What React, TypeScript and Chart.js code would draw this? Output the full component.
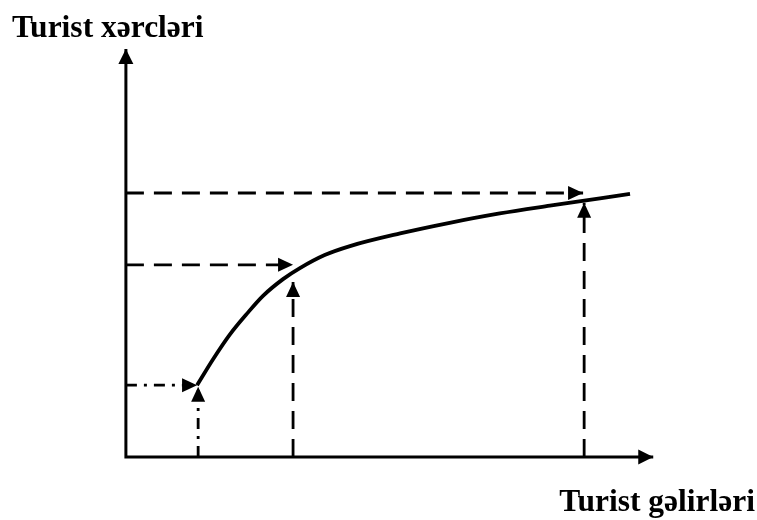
import React, { useEffect, useRef } from 'react';
import { Chart, registerables } from 'chart.js';

Chart.register(...registerables);

// Axis labels
const yAxisLabel = 'Turist xərcləri';
const xAxisLabel = 'Turist gəlirləri';

// Axis extents (abstract units)
const axisMaxX = 10;
const axisMaxY = 10;

// Expenditure curve
const curveX = [1.35, 1.65, 1.97, 2.3, 2.6, 2.98, 3.3, 3.77, 4.25, 5.2, 6.14, 7.09, 8.04, 8.99, 9.56];
const curveY = [1.76, 2.39, 3.0, 3.52, 3.95, 4.36, 4.63, 4.95, 5.17, 5.48, 5.74, 5.97, 6.16, 6.34, 6.45];

// Guide lines: horizontal (from y axis) and vertical (from x axis) arrows to the curve
const guideLevelY = [1.76, 4.71, 6.47];
const guideTipX = [1.35, 3.17, 8.67];
const guideX = [1.37, 3.17, 8.69];
const guideTipY = [1.72, 4.29, 6.23];
const guideStyle = ['dashdot', 'dash', 'dash'];

const FONT = "'Liberation Serif', 'Times New Roman', serif";

const arrowPlugin = {
  id: 'arrowHeads',
  afterDatasetsDraw(chart: any) {
    const ctx = chart.ctx;
    const drawHead = (a: any, b: any, L: number, W: number, color: string) => {
      const ang = Math.atan2(a.y - b.y, a.x - b.x);
      const c = Math.cos(ang);
      const s = Math.sin(ang);
      ctx.beginPath();
      ctx.moveTo(a.x, a.y);
      ctx.lineTo(a.x - L * c + (W / 2) * s, a.y - L * s - (W / 2) * c);
      ctx.lineTo(a.x - L * c - (W / 2) * s, a.y - L * s + (W / 2) * c);
      ctx.closePath();
      ctx.fillStyle = color;
      ctx.fill();
    };
    chart.data.datasets.forEach((ds: any, i: number) => {
      if (!ds.arrow) return;
      const meta = chart.getDatasetMeta(i);
      const pts = meta.data;
      const n = pts.length;
      if (n < 2) return;
      ctx.save();
      if (ds.arrow.end) drawHead(pts[n - 1], pts[n - 2], ds.arrow.length, ds.arrow.width, ds.borderColor);
      if (ds.arrow.start) drawHead(pts[0], pts[1], ds.arrow.length, ds.arrow.width, ds.borderColor);
      ctx.restore();
    });
  },
};

export default function App() {
  const ref = useRef<HTMLCanvasElement | null>(null);

  useEffect(() => {
    const canvas = ref.current;
    if (!canvas) return;

    const datasets: any[] = [];

    // axes
    datasets.push({
      data: [
        { x: 0, y: axisMaxY },
        { x: 0, y: 0 },
        { x: axisMaxX, y: 0 },
      ],
      borderColor: '#000',
      borderWidth: 3,
      borderJoinStyle: 'miter',
      arrow: { start: true, end: true, length: 15, width: 15 },
    });

    for (let i = 0; i < guideLevelY.length; i++) {
      const dash = guideStyle[i] === 'dashdot' ? [11, 7, 3, 7] : [18, 10];
      datasets.push({
        data: [
          { x: 0, y: guideLevelY[i] },
          { x: guideTipX[i], y: guideLevelY[i] },
        ],
        borderColor: '#000',
        borderWidth: 2.8,
        borderDash: dash,
        arrow: { end: true, length: 15, width: 14 },
      });
      datasets.push({
        data: [
          { x: guideX[i], y: 0 },
          { x: guideX[i], y: guideTipY[i] },
        ],
        borderColor: '#000',
        borderWidth: 2.8,
        borderDash: dash,
        arrow: { end: true, length: 15, width: 14 },
      });
    }

    datasets.push({
      data: curveX.map((x, i) => ({ x, y: curveY[i] })),
      borderColor: '#000',
      borderWidth: 3.8,
      cubicInterpolationMode: 'monotone',
    });

    const chart = new Chart(canvas, {
      type: 'scatter',
      data: { datasets },
      options: {
        responsive: false,
        animation: false,
        devicePixelRatio: 1,
        layout: { padding: { left: 12, right: 2, top: 0, bottom: 0 } },
        datasets: {
          scatter: {
            showLine: true,
            pointRadius: 0,
            pointHoverRadius: 0,
            tension: 0,
            clip: false,
          } as any,
        },
        scales: {
          x: { type: 'linear', min: -2.16, max: 11.93, display: false },
          y: { type: 'linear', min: 0, max: axisMaxY, display: false },
        },
        plugins: {
          legend: { display: false },
          tooltip: { enabled: false },
          title: {
            display: true,
            text: yAxisLabel,
            align: 'start',
            color: '#000',
            font: { family: FONT, size: 31.5, weight: 'bold', lineHeight: 1.2 },
            padding: { top: 9.5, bottom: 1.7 },
          },
          subtitle: {
            display: true,
            text: xAxisLabel,
            position: 'bottom',
            align: 'end',
            color: '#000',
            font: { family: FONT, size: 31.5, weight: 'bold', lineHeight: 1.0 },
            padding: { top: 30.6, bottom: 0.9 },
          },
        },
      } as any,
      plugins: [arrowPlugin as any],
    });

    return () => chart.destroy();
  }, []);

  return (
    <div style={{ position: 'fixed', left: 0, top: 0, width: 757, height: 520, background: '#fff' }}>
      <canvas ref={ref} width={757} height={520} style={{ display: 'block' }} />
    </div>
  );
}
